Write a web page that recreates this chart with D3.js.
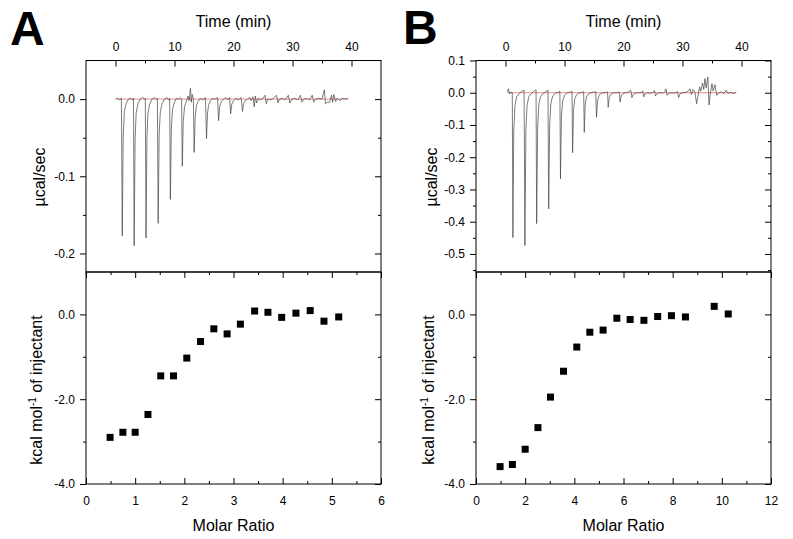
<!DOCTYPE html>
<html>
<head>
<meta charset="utf-8">
<script src="https://d3js.org/d3.v7.min.js"></script>
<style>
body{margin:0;background:#fff;}
svg{font-family:Arial,"Liberation Sans",sans-serif;}
.frame{fill:none;stroke:#000;stroke-width:1;}
.axis path{display:none;}
.axis line{stroke:#000;stroke-width:1;}
.axis text{font-size:12px;fill:#000;font-family:Arial,"Liberation Sans",sans-serif;}
.title{font-size:16px;fill:#000;}
.panelLabel{font-size:48px;font-weight:bold;fill:#000;}
.trace{fill:none;stroke:#444;stroke-width:0.7;}
.baseline{fill:none;stroke:#e07070;stroke-width:0.8;}
</style>
</head>
<body>
<script>
//raw thermogram A, [time (min), µcal/sec]
var thermoA=[
[0.1,0.000],[0.4,0.001],[0.7,-0.001],[1.0,0.001],
[1.15,-0.177],[1.3,-0.050],[1.5,-0.016],[1.8,-0.006],[2.2,0.000],[2.6,0.001],[2.9,-0.001],[3.05,0.001],
[3.16,-0.190],[3.32,-0.052],[3.5,-0.018],[3.8,-0.006],[4.2,0.000],[4.6,0.002],[4.95,0.000],[5.05,0.001],
[5.17,-0.180],[5.33,-0.050],[5.5,-0.018],[5.8,-0.006],[6.2,0.000],[6.6,0.002],[6.95,0.000],[7.1,0.001],
[7.23,-0.161],[7.4,-0.045],[7.6,-0.016],[7.9,-0.006],[8.3,0.000],[8.7,0.002],[9.0,-0.001],[9.18,0.001],
[9.3,-0.130],[9.46,-0.040],[9.65,-0.014],[9.95,-0.005],[10.3,0.001],[10.7,0.000],[11.0,0.002],[11.2,0.000],
[11.32,-0.087],[11.48,-0.030],[11.7,-0.010],[12.0,-0.003],[12.3,0.004],[12.5,-0.002],[12.7,0.014],[12.85,-0.004],[13.0,0.006],[13.2,0.000],
[13.33,-0.069],[13.5,-0.025],[13.7,-0.009],[14.0,-0.003],[14.4,0.001],[14.8,-0.001],[15.25,0.002],
[15.42,-0.051],[15.6,-0.018],[15.8,-0.007],[16.1,-0.002],[16.5,0.001],[16.9,0.000],[17.3,0.002],
[17.47,-0.028],[17.65,-0.010],[17.9,-0.004],[18.3,0.000],[18.7,0.002],[19.0,-0.001],[19.35,0.002],
[19.52,-0.019],[19.7,-0.007],[20.0,-0.002],[20.4,0.001],[20.8,-0.001],[21.3,0.002],
[21.52,-0.016],[21.7,-0.006],[22.0,-0.002],[22.4,0.000],[22.8,0.002],[23.0,-0.002],[23.3,0.003],
[23.52,-0.010],[23.7,0.004],[23.9,-0.005],[24.2,0.001],[24.6,-0.001],[25.0,0.001],[25.35,0.005],
[25.55,-0.006],[25.8,0.000],[26.3,-0.001],[26.8,0.001],[27.3,0.005],
[27.55,-0.005],[27.8,0.000],[28.3,0.001],[28.8,-0.001],[29.3,0.005],
[29.55,-0.005],[29.9,0.000],[30.4,0.001],[30.9,-0.001],[31.35,0.005],
[31.6,-0.004],[31.9,0.000],[32.4,0.001],[32.9,-0.001],[33.35,0.005],
[33.6,-0.004],[33.9,0.000],[34.5,0.001],[35.0,0.000],[35.4,0.012],
[35.6,-0.006],[35.9,-0.004],[36.3,-0.004],[36.6,0.005],[36.8,-0.004],[37.0,0.006],[37.3,-0.003],[37.6,0.001],[38.0,-0.002],[38.5,0.001],[39.0,0.000],[39.4,0.001]
];

//raw thermogram B
var thermoB=[
[0.3,0.003],[0.5,0.012],[0.7,-0.004],[0.9,0.002],[1.15,0.000],
[1.25,-0.449],[1.4,-0.120],[1.6,-0.040],[1.9,-0.012],[2.3,-0.003],[2.8,0.005],[3.15,0.008],
[3.29,-0.474],[3.45,-0.120],[3.65,-0.040],[3.95,-0.012],[4.4,-0.002],[4.9,0.006],[5.18,0.009],
[5.28,-0.406],[5.45,-0.110],[5.65,-0.035],[5.95,-0.012],[6.4,-0.002],[6.9,0.004],[7.2,0.008],
[7.32,-0.360],[7.48,-0.100],[7.7,-0.032],[8.0,-0.010],[8.5,-0.001],[9.0,0.002],[9.22,0.004],
[9.32,-0.267],[9.48,-0.075],[9.7,-0.025],[10.0,-0.008],[10.5,0.000],[11.0,0.002],[11.27,0.004],
[11.37,-0.186],[11.52,-0.055],[11.75,-0.018],[12.05,-0.006],[12.5,0.000],[12.9,0.001],[13.25,0.003],
[13.35,-0.123],[13.5,-0.038],[13.75,-0.012],[14.05,-0.004],[14.5,0.000],[14.9,0.002],[15.3,0.003],
[15.42,-0.076],[15.6,-0.025],[15.85,-0.008],[16.2,-0.002],[16.6,0.000],[17.0,0.001],[17.3,0.002],
[17.4,-0.045],[17.6,-0.015],[17.85,-0.005],[18.2,-0.001],[18.6,0.000],[19.0,0.001],[19.3,0.002],
[19.42,-0.029],[19.6,-0.010],[19.9,-0.003],[20.3,0.000],[20.8,0.002],[21.2,0.008],[21.32,0.001],
[21.42,-0.015],[21.65,-0.005],[22.0,-0.001],[22.5,0.000],[23.0,0.001],[23.25,0.006],
[23.42,-0.013],[23.65,-0.004],[24.0,0.000],[24.5,-0.002],[25.0,0.001],[25.25,0.007],
[25.42,-0.010],[25.7,-0.002],[26.1,0.000],[26.6,-0.001],[27.0,0.002],[27.2,0.012],
[27.38,-0.008],[27.7,-0.001],[28.2,0.000],[28.7,-0.002],[29.1,0.004],[29.35,-0.015],[29.6,-0.002],[30.1,0.000],[30.6,0.001],
[31.0,0.006],[31.3,0.012],[31.5,-0.005],[31.8,0.010],[32.1,0.002],[32.4,-0.034],[32.6,-0.012],[32.9,0.018],[33.1,0.005],
[33.4,0.030],[33.6,0.010],[33.8,0.044],[34.0,0.015],[34.3,0.049],[34.5,-0.038],[34.7,-0.005],[35.0,0.028],[35.2,0.005],
[35.5,0.025],[35.8,-0.008],[36.2,0.000],[36.6,0.003],[37.0,-0.003],[37.4,0.008],[37.7,-0.002],[38.2,0.001],[38.6,-0.002],[39.1,0.000]
];

//fitted baselines
var baseA=[[0,0],[39.5,0]];
var baseB=[[0.3,0],[39.1,0]];

//integrated heats
var ratioA=[0.49,0.75,1.00,1.26,1.52,1.78,2.05,2.33,2.60,2.87,3.14,3.43,3.70,3.98,4.27,4.56,4.84,5.14];
var heatA=[-2.90,-2.78,-2.78,-2.36,-1.45,-1.45,-1.03,-0.64,-0.34,-0.46,-0.23,0.08,0.05,-0.07,0.03,0.09,-0.16,-0.06];
var ratioB=[0.98,1.48,2.00,2.52,3.03,3.56,4.10,4.63,5.17,5.73,6.27,6.83,7.39,7.95,8.52,9.69,10.26];
var heatB=[-3.59,-3.54,-3.18,-2.67,-1.95,-1.34,-0.77,-0.42,-0.37,-0.09,-0.12,-0.14,-0.05,-0.03,-0.06,0.19,0.01];

//tick values
var timeTicks=[0,10,20,30,40];
var timeMinor=[5,15,25,35];
var powTicksA=[0,-0.1,-0.2];
var powMinorA=[-0.05,-0.15];
var powTicksB=[0.1,0,-0.1,-0.2,-0.3,-0.4,-0.5];
var powMinorB=[0.05,-0.05,-0.15,-0.25,-0.35,-0.45,-0.55];
var heatTicks=[0,-2,-4];
var heatMinor=[-1,-3];
var ratioTicksA=[0,1,2,3,4,5,6];
var ratioMinorA=[0.5,1.5,2.5,3.5,4.5,5.5];
var ratioTicksB=[0,2,4,6,8,10,12];
var ratioMinorB=[1,3,5,7,9,11];

//begin script when window loads
window.onload=setChart();

function setChart(){
	var width=793,
		height=539;

	var svg=d3.select("body")
		.append("svg")
		.attr("width",width)
		.attr("height",height);

	drawPanel(svg,{
		label:"A",left:86,labelX:10,labelY:45,
		thermo:thermoA,base:baseA,powDomain:[-0.224,0.05],powTicks:powTicksA,powMinor:powMinorA,
		ratio:ratioA,heat:heatA,ratioMax:6,ratioTicks:ratioTicksA,ratioMinor:ratioMinorA,
		yTitleX:45,kTitleX:41.5
	});
	drawPanel(svg,{
		label:"B",left:476,labelX:403,labelY:44,
		thermo:thermoB,base:baseB,powDomain:[-0.556,0.1],powTicks:powTicksB,powMinor:powMinorB,
		ratio:ratioB,heat:heatB,ratioMax:12,ratioTicks:ratioTicksB,ratioMinor:ratioMinorB,
		yTitleX:436.5,kTitleX:434
	});
};

function drawPanel(svg,p){
	var left=p.left,
		right=left+295,
		top=60.5,
		mid=272,
		bottom=484;

	var fmt=function(d){return d.toFixed(1);};

	//scales
	var xTime=d3.scaleLinear().domain([-5,45]).range([left,right]);
	var yPow=d3.scaleLinear().domain(p.powDomain).range([mid,top]);
	var xRatio=d3.scaleLinear().domain([0,p.ratioMax]).range([left,right]);
	var yHeat=d3.scaleLinear().domain([-4,1]).range([bottom,mid]);

	var g=svg.append("g");

	//panel letter
	g.append("text")
		.attr("class","panelLabel")
		.attr("x",p.labelX)
		.attr("y",p.labelY)
		.text(p.label);

	//----- top plot: raw heat rate -----
	g.append("g").attr("class","axis")
		.attr("transform","translate(0,"+top+")")
		.call(d3.axisTop(xTime).tickValues(timeTicks).tickSize(-6).tickSizeOuter(0).tickPadding(10).tickFormat(d3.format("d")));
	g.append("g").attr("class","axis")
		.attr("transform","translate(0,"+top+")")
		.call(d3.axisTop(xTime).tickValues(timeMinor).tickSize(-3).tickSizeOuter(0).tickFormat(""));

	g.append("g").attr("class","axis")
		.attr("transform","translate("+left+",0)")
		.call(d3.axisLeft(yPow).tickValues(p.powTicks).tickSize(6).tickSizeOuter(0).tickPadding(5).tickFormat(fmt));
	g.append("g").attr("class","axis")
		.attr("transform","translate("+left+",0)")
		.call(d3.axisLeft(yPow).tickValues(p.powMinor).tickSize(3).tickSizeOuter(0).tickFormat(""));

	g.append("g").attr("class","axis")
		.attr("transform","translate("+right+",0)")
		.call(d3.axisRight(yPow).tickValues(p.powTicks).tickSize(-6).tickSizeOuter(0).tickFormat(""));
	g.append("g").attr("class","axis")
		.attr("transform","translate("+right+",0)")
		.call(d3.axisRight(yPow).tickValues(p.powMinor).tickSize(-3).tickSizeOuter(0).tickFormat(""));

	var line=d3.line()
		.x(function(d){return xTime(d[0]);})
		.y(function(d){return yPow(d[1]);});

	g.append("path")
		.datum(p.base)
		.attr("class","baseline")
		.attr("d",line);

	g.append("path")
		.datum(p.thermo)
		.attr("class","trace")
		.attr("d",line);

	g.append("rect")
		.attr("class","frame")
		.attr("x",left).attr("y",top)
		.attr("width",right-left).attr("height",mid-top);

	//----- bottom plot: integrated heats -----
	g.append("g").attr("class","axis")
		.attr("transform","translate(0,"+bottom+")")
		.call(d3.axisBottom(xRatio).tickValues(p.ratioTicks).tickSize(-6).tickSizeOuter(0).tickPadding(12).tickFormat(d3.format("d")));
	g.append("g").attr("class","axis")
		.attr("transform","translate(0,"+bottom+")")
		.call(d3.axisBottom(xRatio).tickValues(p.ratioMinor).tickSize(-3).tickSizeOuter(0).tickFormat(""));

	g.append("g").attr("class","axis")
		.attr("transform","translate(0,"+mid+")")
		.call(d3.axisTop(xRatio).tickValues(p.ratioTicks).tickSize(-6).tickSizeOuter(0).tickFormat(""));
	g.append("g").attr("class","axis")
		.attr("transform","translate(0,"+mid+")")
		.call(d3.axisTop(xRatio).tickValues(p.ratioMinor).tickSize(-3).tickSizeOuter(0).tickFormat(""));

	g.append("g").attr("class","axis")
		.attr("transform","translate("+left+",0)")
		.call(d3.axisLeft(yHeat).tickValues(heatTicks).tickSize(6).tickSizeOuter(0).tickPadding(5).tickFormat(fmt));
	g.append("g").attr("class","axis")
		.attr("transform","translate("+left+",0)")
		.call(d3.axisLeft(yHeat).tickValues(heatMinor).tickSize(3).tickSizeOuter(0).tickFormat(""));

	g.append("g").attr("class","axis")
		.attr("transform","translate("+right+",0)")
		.call(d3.axisRight(yHeat).tickValues(heatTicks).tickSize(-6).tickSizeOuter(0).tickFormat(""));
	g.append("g").attr("class","axis")
		.attr("transform","translate("+right+",0)")
		.call(d3.axisRight(yHeat).tickValues(heatMinor).tickSize(-3).tickSizeOuter(0).tickFormat(""));

	g.append("rect")
		.attr("class","frame")
		.attr("x",left).attr("y",mid)
		.attr("width",right-left).attr("height",bottom-mid);

	//square markers
	g.selectAll(".pt")
		.data(p.ratio)
		.enter()
		.append("rect")
		.attr("class","pt")
		.attr("x",function(d){return xRatio(d)-3.5;})
		.attr("y",function(d,i){return yHeat(p.heat[i])-3.5;})
		.attr("width",7)
		.attr("height",7)
		.attr("fill","#000");

	//axis titles
	g.append("text")
		.attr("class","title")
		.attr("x",left+147.5).attr("y",27)
		.attr("text-anchor","middle")
		.text("Time (min)");

	g.append("text")
		.attr("class","title")
		.attr("x",left+147.5).attr("y",531)
		.attr("text-anchor","middle")
		.text("Molar Ratio");

	g.append("text")
		.attr("class","title")
		.attr("transform","translate("+p.yTitleX+",177) rotate(-90)")
		.attr("text-anchor","middle")
		.text("µcal/sec");

	var kt=g.append("text")
		.attr("class","title")
		.attr("transform","translate("+p.kTitleX+",390) rotate(-90)")
		.attr("text-anchor","middle");
	kt.append("tspan").text("kcal mol");
	kt.append("tspan").attr("font-size","10px").attr("dy","-6").text("-1");
	kt.append("tspan").attr("dy","6").text(" of injectant");
};
</script>
</body>
</html>
